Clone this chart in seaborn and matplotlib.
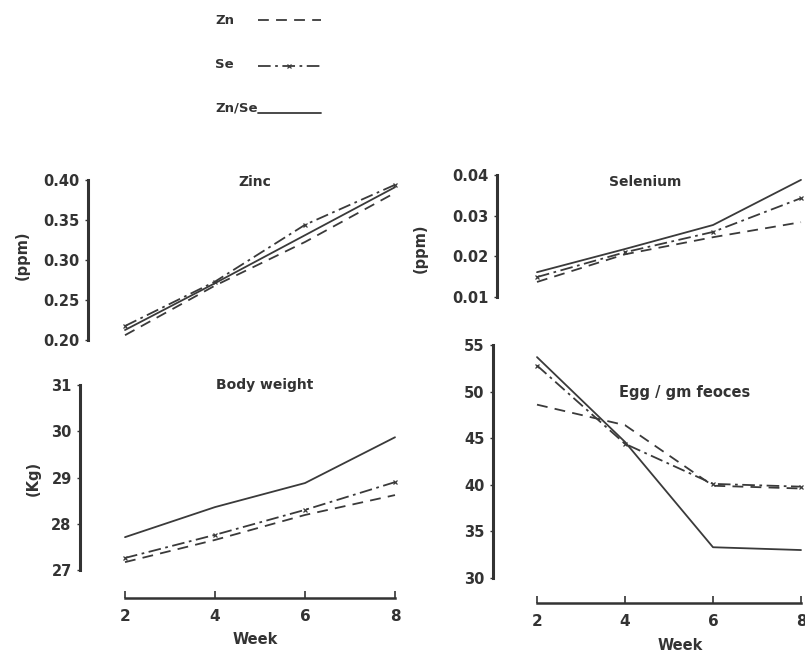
import numpy as np
import pandas as pd
import seaborn as sns
import matplotlib
matplotlib.use("Agg")
import matplotlib.pyplot as plt
from matplotlib.lines import Line2D

sns.set_theme(style="white")
plt.rcParams['font.family'] = ['DejaVu Sans']

# ---------------- data ----------------
weeks = [2, 4, 6, 8]
series = ["Zn", "Se", "Zn/Se"]

zinc_zn = [0.206, 0.268, 0.3225, 0.384]
zinc_se = [0.2175, 0.273, 0.344, 0.394]
zinc_znse = [0.2125, 0.271, 0.331, 0.391]

sel_zn = [0.0137, 0.0205, 0.0247, 0.0284]
sel_se = [0.0149, 0.0210, 0.0260, 0.0343]
sel_znse = [0.0161, 0.0218, 0.0277, 0.0388]

bw_zn = [27.17, 27.65, 28.19, 28.62]
bw_se = [27.26, 27.76, 28.30, 28.90]
bw_znse = [27.71, 28.36, 28.88, 29.87]

egg_zn = [48.6, 46.4, 39.9, 39.6]
egg_se = [52.8, 44.4, 40.1, 39.8]
egg_znse = [53.7, 44.6, 33.3, 33.0]

zinc_ticks = [0.20, 0.25, 0.30, 0.35, 0.40]
zinc_ticklabels = ["0.20", "0.25", "0.30", "0.35", "0.40"]
sel_ticks = [0.01, 0.02, 0.03, 0.04]
sel_ticklabels = ["0.01", "0.02", "0.03", "0.04"]
bw_ticks = [27, 28, 29, 30, 31]
bw_ticklabels = ["27", "28", "29", "30", "31"]
egg_ticks = [30, 35, 40, 45, 50, 55]
egg_ticklabels = ["30", "35", "40", "45", "50", "55"]
week_ticks = [2, 4, 6, 8]
week_ticklabels = ["2", "4", "6", "8"]

# ---------------- style ----------------
INK = "#333333"
LINE = "#3a3a3a"
styles = {
    "Zn": dict(linestyle=(0, (6, 4)), marker=None),
    "Se": dict(linestyle=(0, (7, 2.5, 1.5, 2.5)), marker="x", markersize=3.5, markeredgewidth=0.9),
    "Zn/Se": dict(linestyle="-", marker=None),
}

W, H = 805, 658
fig = plt.figure(figsize=(W / 100, H / 100), dpi=100)


def px_axes(left, top, right, bottom):
    return fig.add_axes([left / W, 1 - bottom / H, (right - left) / W, (bottom - top) / H])


def setup(ax, left, right, w2_px, px_per_week, ylim, yticks, yticklabels):
    lo = 2 - (w2_px - left) / px_per_week
    hi = 2 + (right - w2_px) / px_per_week
    ax.set_xlim(lo, hi)
    ax.set_ylim(*ylim)
    ax.set_facecolor("none")
    for s in ["top", "right"]:
        ax.spines[s].set_visible(False)
    ax.spines["left"].set_linewidth(2.2)
    ax.spines["left"].set_color(INK)
    ax.set_yticks(yticks)
    ax.set_yticklabels(yticklabels)
    ax.tick_params(axis="y", direction="out", length=2, width=1, colors=INK, pad=4,
                   labelsize=10.5, left=True)
    for t in ax.get_yticklabels():
        t.set_fontweight("bold")
        t.set_color(INK)
    ax.set_xlabel("")
    ax.set_ylabel("")


def draw(ax, vals):
    for name, v in zip(series, vals):
        df = pd.DataFrame({"week": weeks, "value": v})
        st = styles[name]
        sns.lineplot(data=df, x="week", y="value", ax=ax, color=LINE, linewidth=1.3,
                     linestyle=st["linestyle"], marker=st.get("marker"),
                     markersize=st.get("markersize", 0), markeredgewidth=st.get("markeredgewidth", 0),
                     markeredgecolor=LINE, legend=False, clip_on=False)


def no_x(ax):
    ax.spines["bottom"].set_visible(False)
    ax.set_xticks([])


def bottom_axis(ax, offset_pt):
    sp = ax.spines["bottom"]
    sp.set_visible(True)
    sp.set_position(("outward", offset_pt))
    sp.set_bounds(2, 8)
    sp.set_linewidth(1.8)
    sp.set_color(INK)
    ax.set_xticks(week_ticks)
    ax.set_xticklabels(week_ticklabels)
    ax.tick_params(axis="x", direction="in", length=5, width=1.2, colors=INK, pad=8,
                   labelsize=11, bottom=True)
    for t in ax.get_xticklabels():
        t.set_fontweight("bold")
        t.set_color(INK)


# Zinc
ax1 = px_axes(88, 180, 410, 340)
draw(ax1, [zinc_zn, zinc_se, zinc_znse])
setup(ax1, 88, 410, 125, 45, (0.20, 0.40), zinc_ticks, zinc_ticklabels)
no_x(ax1)
ax1.text((255 - 88) / (410 - 88), 0.99, "Zinc", transform=ax1.transAxes, ha="center",
         va="center", fontsize=10, fontweight="bold", color=INK)

# Selenium
ax2 = px_axes(497, 175, 805, 297)
draw(ax2, [sel_zn, sel_se, sel_znse])
setup(ax2, 497, 805, 537, 44, (0.01, 0.04), sel_ticks, sel_ticklabels)
no_x(ax2)
ax2.text((645 - 497) / (805 - 497), (297 - 182) / (297 - 175), "Selenium", transform=ax2.transAxes,
         ha="center", va="center", fontsize=10, fontweight="bold", color=INK)

# Body weight
ax3 = px_axes(80, 385, 410, 570)
draw(ax3, [bw_zn, bw_se, bw_znse])
setup(ax3, 80, 410, 125, 45, (27, 31), bw_ticks, bw_ticklabels)
bottom_axis(ax3, 28 * 0.72)
ax3.text((265 - 80) / (410 - 80), 1.0, "Body weight", transform=ax3.transAxes,
         ha="center", va="center", fontsize=10, fontweight="bold", color=INK)

# Egg / gm faeces
ax4 = px_axes(493, 345, 805, 578)
draw(ax4, [egg_zn, egg_se, egg_znse])
setup(ax4, 493, 805, 537, 44, (30, 55), egg_ticks, egg_ticklabels)
bottom_axis(ax4, 25 * 0.72)
ax4.text((685 - 493) / (805 - 493), (578 - 392) / (578 - 345), "Egg / gm feoces",
         transform=ax4.transAxes, ha="center", va="center", fontsize=10.5,
         fontweight="bold", color=INK)

# axis labels
fig.text(22 / W, 1 - 255 / H, "(ppm)", rotation=90, ha="center", va="center",
         fontsize=10.5, fontweight="bold", color=INK)
fig.text(420 / W, 1 - 248 / H, "(ppm)", rotation=90, ha="center", va="center",
         fontsize=10.5, fontweight="bold", color=INK)
fig.text(33 / W, 1 - 478 / H, "(Kg)", rotation=90, ha="center", va="center",
         fontsize=10.5, fontweight="bold", color=INK)
fig.text(255 / W, 1 - 640 / H, "Week", ha="center", va="center",
         fontsize=10.5, fontweight="bold", color=INK)
fig.text(680 / W, 1 - 646 / H, "Week", ha="center", va="center",
         fontsize=10.5, fontweight="bold", color=INK)

# legend: handles in a legend, labels left-aligned beside them
handles = []
for name in series:
    st = styles[name]
    handles.append(Line2D([], [], color=LINE, linewidth=1.3, linestyle=st["linestyle"],
                          marker=st.get("marker"), markersize=st.get("markersize", 0),
                          markeredgewidth=st.get("markeredgewidth", 0), markeredgecolor=LINE))
leg = fig.legend(handles, ["", "", ""], loc="upper left", bbox_to_anchor=(258 / W, 1 - 14 / H),
                 frameon=False, fontsize=9, labelspacing=2.68,
                 handlelength=5, handletextpad=0, borderaxespad=0, borderpad=0)
for i, name in enumerate(series):
    fig.text(215 / W, 1 - (21 + 43.5 * i) / H, name, ha="left", va="center",
             fontsize=9.5, fontweight="bold", color=INK)

fig.savefig("out.png", dpi=100, facecolor="white")
